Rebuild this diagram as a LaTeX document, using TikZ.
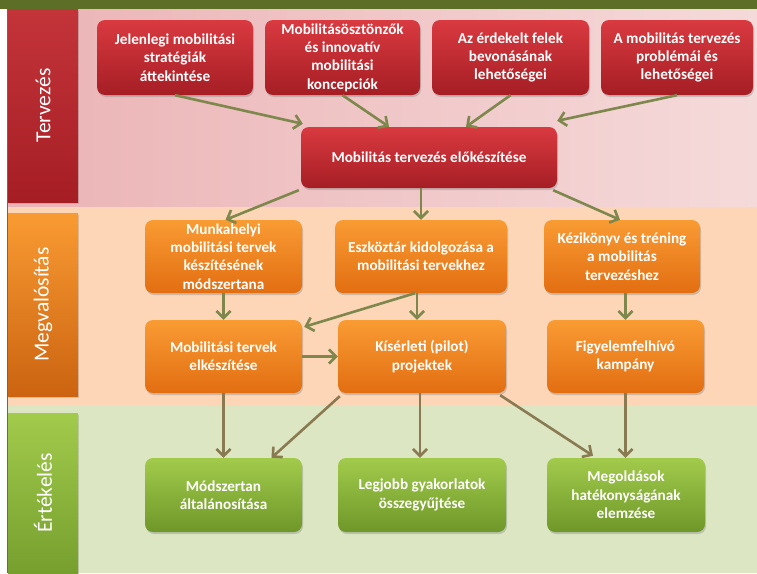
\documentclass[tikz,border=0pt]{standalone}
\usepackage{fontspec}
\setmainfont{Carlito}
\usepackage{xcolor}
\usepackage{tikz}
\usetikzlibrary{arrows.meta, positioning, shadows}

\definecolor{barGreen}{HTML}{5D6E27}
\definecolor{edgeOlive}{HTML}{7A6A2E}
\definecolor{bandPinkL}{HTML}{EBB3B5}
\definecolor{bandPinkR}{HTML}{F5DADA}
\definecolor{bandPeach}{HTML}{FCD6B7}
\definecolor{bandGreen}{HTML}{DCE6C3}
\definecolor{redTop}{HTML}{D93A40}
\definecolor{redBot}{HTML}{A51E24}
\definecolor{orTop}{HTML}{F99B33}
\definecolor{orBot}{HTML}{E26E12}
\definecolor{grTop}{HTML}{A2CB4C}
\definecolor{grBot}{HTML}{6E9729}
\definecolor{arrowOlive}{HTML}{7E874C}
\definecolor{arrowBrown}{HTML}{8A7A52}

\begin{document}
\begin{tikzpicture}[
    x=1pt, y=-1pt,
    box/.style={rectangle, rounded corners=8pt, text=white, align=center, inner sep=0pt,
        font=\bfseries\fontsize{15.2}{18.4}\selectfont,
        drop shadow={shadow xshift=1pt, shadow yshift=-2pt, opacity=0.35}},
    redbox/.style={box, top color=redTop, bottom color=redBot},
    orbox/.style={box, top color=orTop, bottom color=orBot},
    grbox/.style={box, top color=grTop, bottom color=grBot},
    panel/.style={rectangle, minimum width=70pt,
        drop shadow={shadow xshift=1pt, shadow yshift=-1.5pt, opacity=0.3}},
    paneltext/.style={rotate=90, text=white, font=\fontsize{21.5}{24}\selectfont},
    arrow/.style={-{Straight Barb[length=7pt, width=14pt]}, line width=2.6pt, arrowOlive},
    lowarrow/.style={arrow, arrowBrown}
]
\useasboundingbox (0,0) rectangle (757,573);

% Bands
\fill[white] (0,0) rectangle (757,573);
\shade[left color=bandPinkL, right color=bandPinkR] (8,9) rectangle (757,207);
\fill[bandPeach] (8,207) rectangle (757,406);
\fill[bandGreen] (8,406) rectangle (757,573);
\fill[barGreen] (0,0) rectangle (757,9);
\draw[edgeOlive, line width=1pt] (7.5,9) -- (7.5,573);

% Side panels
\node[panel, top color=redTop!90!black, bottom color=redBot, minimum height=193pt] (plan) at (43,105.5) {};
\node[panel, top color=orTop, bottom color=orBot!90!black, minimum height=183pt] (impl) at (43,304.5) {};
\node[panel, top color=grTop, bottom color=grBot!85!grTop, minimum height=160pt] (eval) at (43,493) {};
\node[paneltext] (planT) at (plan) {Tervezés};
\node[paneltext] (implT) at (impl) {Megvalósítás};
\node[paneltext] (evalT) at (eval) {Értékelés};

% Tervezés
\node[redbox, minimum width=156pt, minimum height=75pt] (current) at (175,57.5) {Jelenlegi mobilitási\\stratégiák\\áttekintése};
\node[redbox, minimum width=155pt, minimum height=75pt] (incent) at (342.5,57.5) {Mobilitásösztönzők\\és innovatív\\mobilitási\\koncepciók};
\node[redbox, minimum width=157pt, minimum height=75pt] (stake) at (510.5,57.5) {Az érdekelt felek\\bevonásának\\lehetőségei};
\node[redbox, minimum width=152pt, minimum height=75pt] (issues) at (677,57.5) {A mobilitás tervezés\\problémái és\\lehetőségei};
\node[redbox, minimum width=256pt, minimum height=61pt] (prep) at (429,157.5) {Mobilitás tervezés előkészítése};

% Megvalósítás
\node[orbox, minimum width=157pt, minimum height=73pt] (method) at (223.5,256.5) {Munkahelyi\\mobilitási tervek\\készítésének\\módszertana};
\node[orbox, minimum width=172pt, minimum height=73pt] (toolkit) at (421,256.5) {Eszköztár kidolgozása a\\mobilitási tervekhez};
\node[orbox, minimum width=156pt, minimum height=73pt] (manual) at (622,256.5) {Kézikönyv és tréning\\a mobilitás\\tervezéshez};
\node[orbox, minimum width=157pt, minimum height=73pt] (plans) at (223.5,356.5) {Mobilitási tervek\\elkészítése};
\node[orbox, minimum width=168pt, minimum height=73pt] (pilot) at (422,356.5) {Kísérleti (pilot)\\projektek};
\node[orbox, minimum width=157pt, minimum height=73pt] (campaign) at (625.5,356.5) {Figyelemfelhívó\\kampány};

% Értékelés
\node[grbox, minimum width=157pt, minimum height=74pt] (general) at (223.5,495) {Módszertan\\általánosítása};
\node[grbox, minimum width=168pt, minimum height=74pt] (best) at (422,495) {Legjobb gyakorlatok\\összegyűjtése};
\node[grbox, minimum width=158pt, minimum height=74pt] (assess) at (626,495) {Megoldások\\hatékonyságának\\elemzése};

\draw[arrow] (current.south) -- ([xshift=2pt,yshift=3pt]prep.north west);
\draw[arrow] (incent.south) -- ([xshift=-40pt]prep.north);
\draw[arrow] (stake.south) -- ([xshift=37pt]prep.north);
\draw[arrow] (issues.south) -- ([yshift=6pt]prep.north east);
\draw[arrow] ([xshift=-2pt,yshift=-2pt]prep.south west) -- ([xshift=2pt]method.north);
\draw[arrow] (prep.south -| toolkit.north) -- (toolkit.north);
\draw[arrow] ([xshift=-4pt,yshift=-2pt]prep.south east) -- ([xshift=-2pt]manual.north);
\draw[arrow] (method.south) -- (plans.north);
\draw[arrow] ([xshift=-4pt]toolkit.south) -- ([xshift=-4pt]toolkit.south |- pilot.north);
\draw[arrow] ([xshift=-6pt]toolkit.south) -- ([xshift=2pt,yshift=-7pt]plans.north east);
\draw[arrow] (manual.south -| campaign.north) -- (campaign.north);
\draw[arrow] (plans.east) -- (pilot.west);

% Toward evaluation
\draw[lowarrow] (plans.south) -- (general.north);
\draw[lowarrow] ([xshift=2pt,yshift=-3pt]pilot.south west) -- ([xshift=48pt]general.north);
\draw[lowarrow] ([xshift=-2pt]pilot.south) -- ([xshift=-2pt]pilot.south |- best.north);
\draw[lowarrow] ([xshift=-6pt,yshift=-2pt]pilot.south east) -- ([xshift=-33pt,yshift=2pt]assess.north);
\draw[lowarrow] (campaign.south) -- (campaign.south |- assess.north);
\end{tikzpicture}
\end{document}
